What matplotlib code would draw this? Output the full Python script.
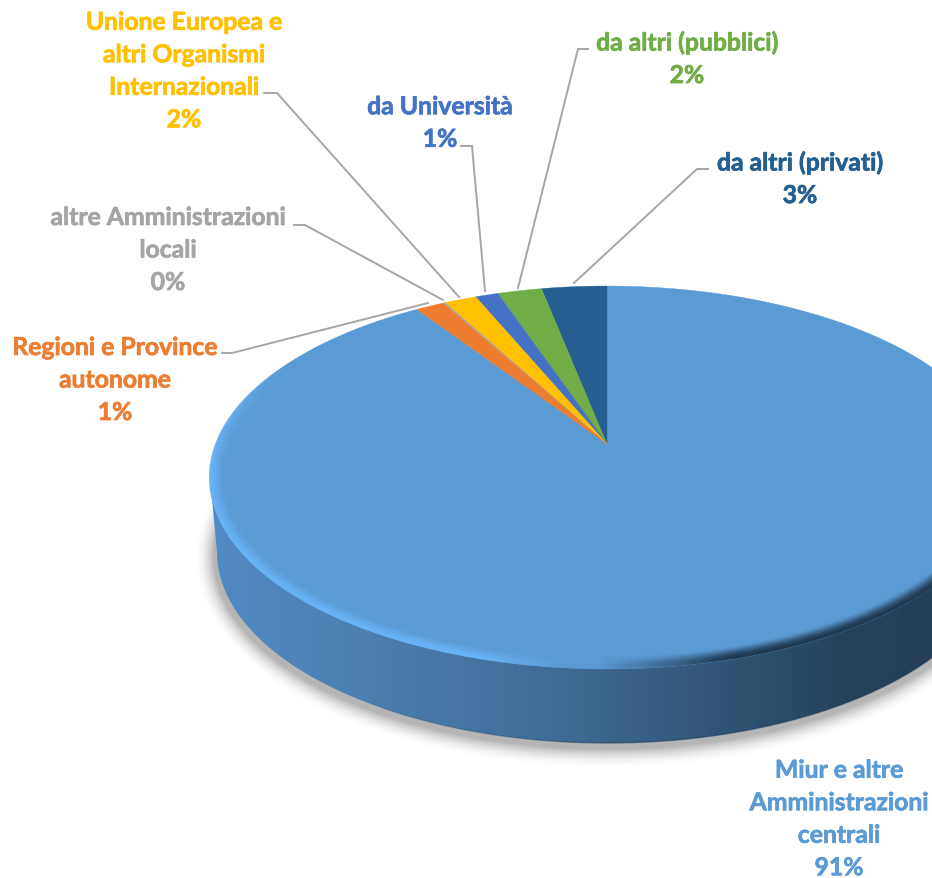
import numpy as np
import matplotlib
matplotlib.use('Agg')
import matplotlib.pyplot as plt
import matplotlib.patheffects as pe
from matplotlib.patches import Polygon
from matplotlib.collections import LineCollection
from matplotlib.colors import LinearSegmentedColormap, to_rgb

plt.rcParams['font.family'] = ['Lato', 'DejaVu Sans']

# slices, counter-clockwise from 12 o'clock
labels = ["da altri (privati)\n3%", "da altri (pubblici)\n2%", "da Università\n1%",
          "Unione Europea e\naltri Organismi\nInternazionali\n2%",
          "altre Amministrazioni\nlocali\n0%", "Regioni e Province\nautonome\n1%",
          "Miur e altre\nAmministrazioni\ncentrali\n91%"]
values = [3.15, 2.13, 1.1, 1.55, 0.1, 1.37, 90.6]
colors = ['#255E91', '#70AD47', '#4472C4', '#FFC000', '#A5A5A5', '#ED7D31', '#5B9BD5']

# label centre in pixels
label_x = [800, 687, 440, 184, 168, 115, 839]
label_y = [180, 60, 124, 72, 251, 381, 820]

# leader lines in pixels, None for the big slice
leaders = [[(708, 170), (697, 170), (574, 284)],
           [(588, 50), (578, 50), (518, 289)],
           [(461, 147), (472, 147), (485, 292)],
           [(264, 94), (277, 94), (459, 298)],
           [(294, 226), (305, 226), (443, 301)],
           [(222, 354), (232, 354), (428, 304)],
           None]

W, H = 932, 879
fig = plt.figure(figsize=(W / 100, H / 100), dpi=100)
ax = fig.add_axes([0, 0, 1, 1])
ax.set_xlim(0, W)
ax.set_ylim(H, 0)
ax.axis('off')

# geometry of the tilted pie
cx, apex_y = 607, 445
k = 0.175
a = 185.6
b = 391.0
ell_y, rx, ry = 478, 397, 191
depth = 75


def project(theta):
    # theta measured ccw from the top, perspective puts the apex above the ellipse centre
    u, v = -np.sin(theta), np.cos(theta)
    d = 1 + k * v
    return cx + b * u / d, apex_y - a * v / d


xx, yy = np.meshgrid(np.arange(W) + 0.5, np.arange(H) + 0.5)

# soft shadow under the pie
sx, sy, srx, sry = 607, 558, 394, 193
nx, ny = (xx - sx) / srx, (yy - sy) / sry
r = np.sqrt(nx ** 2 + ny ** 2)
grad = np.sqrt((nx / srx) ** 2 + (ny / sry) ** 2) / np.maximum(r, 1e-6)
dist = (r - 1) / np.maximum(grad, 1e-6)
shadow = np.zeros((H, W, 4))
shadow[..., :3] = 0.42
shadow[..., 3] = 0.5 * np.clip(1 - (dist + 1) / 20, 0, 1) ** 2
ax.imshow(shadow, extent=(0, W, H, 0), aspect='auto', zorder=1)

# side wall with horizontal gradient
lower = np.linspace(0, np.pi, 360)
wall_pts = np.vstack([
    np.column_stack([cx + 390 * np.cos(lower), ell_y + depth + ry * np.sin(lower)]),
    np.column_stack([cx + rx * np.cos(lower[::-1]), ell_y + ry * np.sin(lower[::-1])]),
])
wall = Polygon(wall_pts, closed=True, fc='none', ec='none', zorder=2)
ax.add_patch(wall)
wall_cmap = LinearSegmentedColormap.from_list('wall', [
    (0.0, '#528ac4'), (0.2, '#4b7fb0'), (0.42, '#406d99'),
    (0.62, '#335879'), (0.8, '#264259'), (1.0, '#233d54')])
im = ax.imshow(np.linspace(0, 1, 256)[None, :], extent=(210, 932 + 70, H, 0), aspect='auto',
               cmap=wall_cmap, zorder=2)
im.set_clip_path(wall)

# thin dark edge on the lower wall, fading out to the left
edge_t = np.linspace(np.deg2rad(20), np.deg2rad(125), 200)
edge_x, edge_y = cx + 390 * np.cos(edge_t), ell_y + depth + ry * np.sin(edge_t)
edge_segs = np.stack([np.column_stack([edge_x[:-1], edge_y[:-1]]),
                      np.column_stack([edge_x[1:], edge_y[1:]])], axis=1)
edge_alpha = np.clip((edge_x[:-1] - 330) / 300, 0, 1) * 0.6
edge_cols = [(0.12, 0.23, 0.35, e) for e in edge_alpha]
ax.add_collection(LineCollection(edge_segs, colors=edge_cols, linewidths=1.0, zorder=2))

# top face, one polygon per slice, big slice first so the tips stay visible
edges = np.cumsum([0] + values) / sum(values) * 2 * np.pi
for i in [6, 0, 1, 2, 3, 4, 5]:
    th = np.linspace(edges[i], edges[i + 1], max(int(values[i] * 12), 6))
    px, py = project(th)
    pts = np.column_stack([np.r_[cx, px], np.r_[apex_y, py]])
    ax.add_patch(Polygon(pts, closed=True, fc=colors[i], ec=colors[i], lw=0.3, zorder=3))

# bevel round the lower rim, light on the left and dark on the right
rim_left = np.array(to_rgb('#69B4F7'))
rim_mid = np.array(to_rgb('#5B9BD5'))
rim_dark = np.array(to_rgb('#20384e'))
rim_t = np.linspace(np.deg2rad(-25), np.deg2rad(215), 500)
n_steps = 16
for step in range(n_steps):
    ex = cx + (rx - step * 1.0) * np.cos(rim_t)
    ey = ell_y + (ry - step * 0.75) * np.sin(rim_t)
    segs = np.stack([np.column_stack([ex[:-1], ey[:-1]]), np.column_stack([ex[1:], ey[1:]])], axis=1)
    seg_cols = []
    for mx, st in zip(ex[:-1], rim_t[:-1]):
        if mx < 560:
            f = np.clip((mx - 480) / 80, 0, 1)
            col = rim_left * (1 - f) + rim_mid * f
        else:
            f = np.clip((mx - 600) / 130, 0, 1)
            col = rim_mid * (1 - f) + rim_dark * f
        fade = 1.0
        if st > np.pi:
            fade = np.clip(1 - (st - np.pi) / np.deg2rad(35), 0, 1)
        seg_cols.append((*col, fade * (1 - step / n_steps) ** 1.7))
    ax.add_collection(LineCollection(segs, colors=seg_cols, linewidths=1.4, zorder=4))

# leader lines and labels
for pts in leaders:
    if pts is None:
        continue
    ax.plot([p[0] for p in pts], [p[1] for p in pts], color='#A6A6A6', lw=1.4, zorder=5,
            solid_joinstyle='miter')

for lab, lx, ly, c in zip(labels, label_x, label_y, colors):
    ax.text(lx, ly, lab, color=c, fontsize=17.8, fontweight='bold', ha='center', va='center',
            linespacing=1.5, zorder=6,
            path_effects=[pe.withStroke(linewidth=0.5, foreground=c)])

fig.savefig('out.png', dpi=100)
